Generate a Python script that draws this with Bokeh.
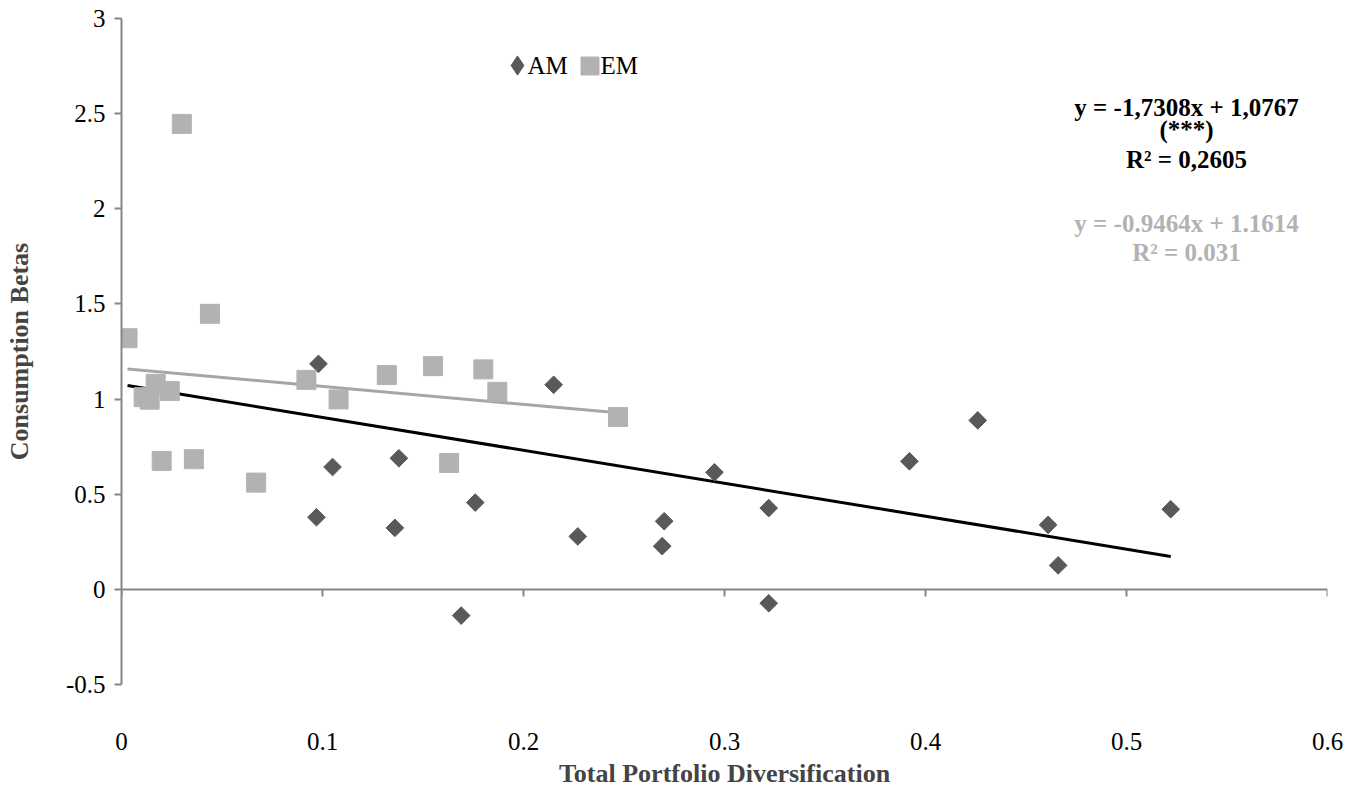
import numpy as np
from bokeh.plotting import figure
from bokeh.models import (Range1d, LinearAxis, Label, Legend, LegendItem,
                          FixedTicker, CustomJSTickFormatter)
from bokeh.embed import file_html
from bokeh.resources import INLINE

# ---- data ----
am_x = [0.098, 0.097, 0.105, 0.136, 0.138, 0.169, 0.176, 0.215, 0.227, 0.269,
        0.270, 0.295, 0.322, 0.322, 0.392, 0.426, 0.461, 0.466, 0.522]
am_y = [1.185, 0.379, 0.643, 0.323, 0.689, -0.138, 0.456, 1.075, 0.278, 0.227,
        0.358, 0.615, 0.427, -0.073, 0.673, 0.888, 0.339, 0.126, 0.421]

em_x = [0.003, 0.011, 0.014, 0.017, 0.020, 0.024, 0.030, 0.036, 0.044, 0.067,
        0.092, 0.108, 0.132, 0.155, 0.163, 0.180, 0.187, 0.247]
em_y = [1.320, 1.010, 0.997, 1.080, 0.675, 1.042, 2.446, 0.684, 1.448, 0.561,
        1.101, 0.998, 1.126, 1.173, 0.664, 1.156, 1.038, 0.906]

all_slope, all_intercept = -1.7308, 1.0767
em_slope, em_intercept = -0.9464, 1.1614

x_ticks = [0, 0.1, 0.2, 0.3, 0.4, 0.5, 0.6]
y_ticks = [-0.5, 0, 0.5, 1, 1.5, 2, 2.5, 3]

series_names = ["AM", "EM"]
eq_all = ["y = -1,7308x + 1,0767", "(***)", "R\u00b2 = 0,2605"]
eq_em = ["y = -0.9464x + 1.1614", "R\u00b2 = 0.031"]

FONT = "Liberation Serif"
AXIS_GRAY = "#868686"
AM_COLOR = "#595959"
EM_COLOR = "#b2b2b2"
EM_LINE = "#a6a6a6"
TICK_FS = "25px"
TITLE_FS = "26px"

p = figure(width=1352, height=790, output_backend="svg", toolbar_location=None,
           x_range=Range1d(0, 0.6), y_range=Range1d(-0.5, 3),
           x_axis_location=None, y_axis_location=None,
           min_border_left=121, min_border_right=25, min_border_top=18,
           min_border_bottom=40)
p.outline_line_color = None
p.xgrid.visible = False
p.ygrid.visible = False

plain = CustomJSTickFormatter(code="return tick.toString()")

# y axis
yax = LinearAxis(ticker=FixedTicker(ticks=y_ticks), formatter=plain)
yax.axis_line_color = AXIS_GRAY
yax.axis_line_width = 2
yax.major_tick_line_color = AXIS_GRAY
yax.major_tick_line_width = 2
yax.major_tick_out = 7
yax.major_tick_in = 0
yax.minor_tick_line_color = None
yax.major_label_text_font = FONT
yax.major_label_text_font_size = TICK_FS
yax.major_label_text_color = "black"
yax.major_label_standoff = 9
yax.axis_label = "Consumption Betas"
yax.axis_label_text_font = FONT
yax.axis_label_text_font_style = "bold"
yax.axis_label_text_font_size = TITLE_FS
yax.axis_label_standoff = 29
p.add_layout(yax, "left")

# x axis line at y = 0 with ticks
xax0 = LinearAxis(ticker=FixedTicker(ticks=x_ticks), fixed_location=0)
xax0.axis_line_color = AXIS_GRAY
xax0.axis_line_width = 2
xax0.major_tick_line_color = AXIS_GRAY
xax0.major_tick_line_width = 2
xax0.major_tick_out = 7
xax0.major_tick_in = 0
xax0.minor_tick_line_color = None
xax0.formatter = CustomJSTickFormatter(code="return ''")
xax0.major_label_standoff = 0
p.add_layout(xax0, "below")

# x labels axis at bottom
xax = LinearAxis(ticker=FixedTicker(ticks=x_ticks), formatter=plain)
xax.axis_line_color = None
xax.major_tick_line_color = None
xax.major_tick_out = 0
xax.major_tick_in = 0
xax.minor_tick_line_color = None
xax.major_label_text_font = FONT
xax.major_label_text_font_size = TICK_FS
xax.major_label_text_color = "black"
xax.major_label_standoff = 48
xax.axis_label = "Total Portfolio Diversification"
xax.axis_label_text_font = FONT
xax.axis_label_text_font_style = "bold"
xax.axis_label_text_font_size = TITLE_FS
xax.axis_label_standoff = 6
p.add_layout(xax, "below")

# trend lines
all_x = am_x + em_x
lx = [min(all_x), max(all_x)]
p.line(lx, [all_slope * v + all_intercept for v in lx], line_color="black", line_width=3)
ex = [min(em_x), max(em_x)]
p.line(ex, [em_slope * v + em_intercept for v in ex], line_color=EM_LINE, line_width=3)

# scatter
p.scatter(am_x, am_y, marker="square", angle=np.pi / 4, size=12.5,
          fill_color=AM_COLOR, line_color=AM_COLOR)
p.scatter(em_x, em_y, marker="square", size=19,
          fill_color=EM_COLOR, line_color=EM_COLOR)

# legend proxies (legend glyphs are drawn unrotated; size 0 so nothing shows in the plot)
am_leg = p.scatter(am_x, am_y, marker="diamond", size=0,
                   fill_color=AM_COLOR, line_color=AM_COLOR)
em_leg = p.scatter(em_x, em_y, marker="square", size=0,
                   fill_color=EM_COLOR, line_color=EM_COLOR)

leg_common = dict(orientation="horizontal", border_line_color=None,
                  background_fill_alpha=0, label_text_font=FONT,
                  label_text_font_size="1px", label_standoff=0,
                  padding=0, margin=0, spacing=0)
legend_am = Legend(items=[LegendItem(label=" ", renderers=[am_leg])],
                   location=(372, 595), glyph_width=48, glyph_height=48,
                   **leg_common)
legend_em = Legend(items=[LegendItem(label=" ", renderers=[em_leg])],
                   location=(446, 596), glyph_width=45, glyph_height=45,
                   **leg_common)
p.add_layout(legend_am, "center")
p.add_layout(legend_em, "center")

# legend texts
for name, xx in zip(series_names, [406, 479]):
    p.add_layout(Label(x=xx, y=619, x_units="screen", y_units="screen", text=name,
                       text_font=FONT, text_font_size=TICK_FS, text_color="black",
                       text_align="left", text_baseline="middle"))

# equations
for txt, yy in zip(eq_all, [577, 555, 525]):
    p.add_layout(Label(x=1065, y=yy, x_units="screen", y_units="screen", text=txt,
                       text_font=FONT, text_font_style="bold", text_font_size=TICK_FS,
                       text_color="black", text_align="center", text_baseline="middle"))
for txt, yy in zip(eq_em, [461, 432]):
    p.add_layout(Label(x=1065, y=yy, x_units="screen", y_units="screen", text=txt,
                       text_font=FONT, text_font_style="bold", text_font_size=TICK_FS,
                       text_color=EM_COLOR, text_align="center", text_baseline="middle"))

open("out.html", "w").write(file_html(p, INLINE))
